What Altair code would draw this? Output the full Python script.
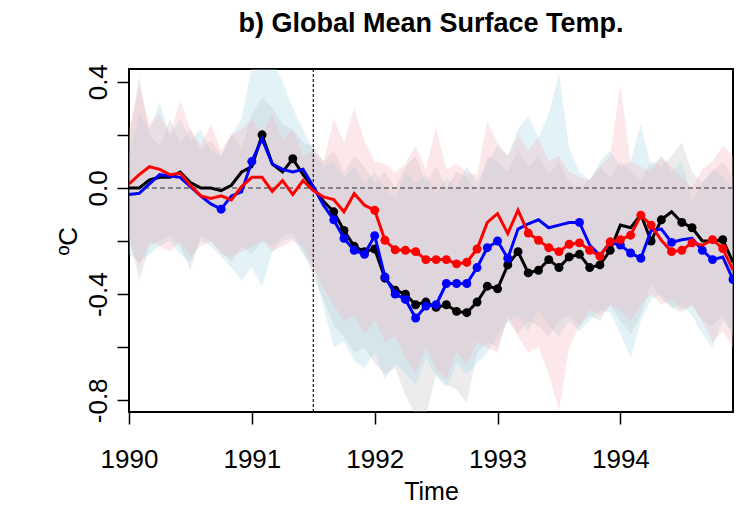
import altair as alt
import pandas as pd

# ---------------- data ----------------
months = [1990 + i / 12 for i in range(60)]

black = [0.00, 0.00, 0.03, 0.04, 0.04, 0.06, 0.02, 0.00, 0.00, -0.01,
         0.01, 0.06, 0.08, 0.20, 0.09, 0.06, 0.11, 0.05, 0.00, -0.05,
         -0.09, -0.16, -0.22, -0.24, -0.23, -0.34, -0.385, -0.40, -0.44, -0.43,
         -0.45, -0.44, -0.465, -0.47, -0.43, -0.37, -0.38, -0.29, -0.24, -0.32,
         -0.31, -0.27, -0.30, -0.26, -0.25, -0.30, -0.29, -0.235, -0.14, -0.15,
         -0.10, -0.20, -0.12, -0.09, -0.13, -0.15, -0.20, -0.20, -0.195, -0.28]

blue = [-0.025, -0.02, 0.015, 0.05, 0.045, 0.04, 0.005, -0.03, -0.06, -0.08,
        -0.03, -0.015, 0.10, 0.185, 0.09, 0.07, 0.06, 0.07, 0.005, -0.065,
        -0.12, -0.19, -0.235, -0.25, -0.18, -0.335, -0.40, -0.42, -0.49, -0.445,
        -0.44, -0.36, -0.36, -0.36, -0.30, -0.225, -0.20, -0.265, -0.155, -0.135,
        -0.12, -0.15, -0.14, -0.13, -0.13, -0.215, -0.255, -0.205, -0.215, -0.245,
        -0.265, -0.16, -0.155, -0.205, -0.195, -0.19, -0.235, -0.27, -0.26, -0.345]

red = [0.015, 0.05, 0.08, 0.07, 0.05, 0.055, 0.01, -0.03, -0.04, -0.03,
       -0.045, 0.005, 0.04, 0.04, -0.013, 0.028, -0.025, 0.028, -0.01, -0.034,
       -0.044, -0.09, -0.021, -0.065, -0.084, -0.197, -0.233, -0.235, -0.24, -0.27,
       -0.27, -0.27, -0.286, -0.28, -0.23, -0.13, -0.097, -0.172, -0.084, -0.17,
       -0.197, -0.225, -0.24, -0.212, -0.207, -0.235, -0.257, -0.203, -0.195, -0.178,
       -0.103, -0.14, -0.197, -0.24, -0.235, -0.207, -0.216, -0.195, -0.228, -0.31]

# months that carry a filled marker
black_dots = [13, 16] + list(range(20, 48)) + [51, 52, 54, 55, 58]
blue_dots = [9, 12] + list(range(20, 38)) + [44, 48, 49, 50, 53, 56, 57, 59]
red_dots = list(range(24, 35)) + list(range(39, 52)) + [53, 54, 55, 57, 58]

# ensemble spread envelopes
gray_hi = [0.18, 0.42, 0.20, 0.16, 0.26, 0.17, 0.22, 0.14, 0.18, 0.12,
           0.20, 0.15, 0.28, 0.34, 0.30, 0.24, 0.22, 0.17, 0.16, 0.10,
           0.14, 0.06, 0.12, 0.08, 0.02, 0.06, 0.00, 0.08, 0.12, 0.02,
           0.08, 0.00, 0.06, 0.04, -0.02, 0.12, 0.10, 0.06, 0.14, 0.08,
           0.12, 0.05, 0.10, 0.02, 0.00, 0.03, 0.08, 0.04, 0.10, 0.06,
           0.03, 0.10, 0.08, 0.12, 0.17, 0.06, 0.02, 0.06, 0.10, 0.04]
gray_lo = [-0.18, -0.35, -0.22, -0.20, -0.18, -0.22, -0.31, -0.18, -0.20, -0.24,
           -0.28, -0.22, -0.25, -0.20, -0.22, -0.18, -0.17, -0.24, -0.33, -0.42,
           -0.52, -0.56, -0.62, -0.60, -0.66, -0.70, -0.68, -0.78, -0.86, -0.86,
           -0.70, -0.74, -0.76, -0.81, -0.62, -0.58, -0.60, -0.50, -0.55, -0.50,
           -0.52, -0.56, -0.50, -0.48, -0.52, -0.48, -0.50, -0.44, -0.50, -0.55,
           -0.48, -0.36, -0.42, -0.45, -0.47, -0.44, -0.50, -0.52, -0.48, -0.56]
blue_hi = [0.12, 0.28, 0.22, 0.32, 0.20, 0.26, 0.18, 0.22, 0.14, 0.12,
           0.20, 0.26, 0.46, 0.50, 0.48, 0.40, 0.30, 0.22, 0.14, 0.08,
           0.10, 0.04, 0.08, 0.02, 0.06, 0.00, -0.04, 0.06, 0.02, 0.05,
           -0.02, 0.04, 0.00, 0.08, 0.02, 0.10, 0.16, 0.12, 0.22, 0.27,
           0.19, 0.28, 0.43, 0.15, 0.06, 0.03, 0.10, 0.14, 0.08, 0.10,
           0.24, 0.08, 0.12, 0.06, 0.10, -0.05, 0.02, 0.07, 0.04, 0.00]
blue_lo = [-0.25, -0.28, -0.25, -0.22, -0.20, -0.25, -0.28, -0.20, -0.22, -0.26,
           -0.30, -0.35, -0.30, -0.37, -0.24, -0.20, -0.19, -0.25, -0.30, -0.45,
           -0.60, -0.58, -0.65, -0.68, -0.62, -0.72, -0.66, -0.70, -0.74, -0.64,
           -0.71, -0.75, -0.66, -0.70, -0.66, -0.62, -0.56, -0.50, -0.48, -0.54,
           -0.46, -0.52, -0.56, -0.50, -0.54, -0.50, -0.46, -0.47, -0.55, -0.64,
           -0.50, -0.42, -0.40, -0.45, -0.44, -0.48, -0.55, -0.60, -0.50, -0.54]
pink_hi = [0.22, 0.38, 0.24, 0.28, 0.20, 0.33, 0.22, 0.16, 0.24, 0.14,
           0.20, 0.22, 0.26, 0.20, 0.28, 0.18, 0.22, 0.12, 0.14, 0.10,
           0.26, 0.17, 0.30, 0.18, 0.10, 0.09, 0.06, 0.09, 0.16, 0.07,
           0.23, 0.07, 0.09, 0.06, 0.05, 0.25, 0.17, 0.12, 0.20, 0.14,
           0.19, 0.10, 0.12, 0.06, 0.04, 0.03, 0.08, 0.12, 0.39, 0.10,
           0.08, 0.06, 0.12, 0.08, 0.04, 0.00, 0.07, 0.10, 0.16, 0.12]
pink_lo = [-0.20, -0.30, -0.20, -0.22, -0.24, -0.20, -0.26, -0.22, -0.20, -0.25,
           -0.26, -0.24, -0.22, -0.20, -0.24, -0.22, -0.20, -0.22, -0.30, -0.38,
           -0.44, -0.50, -0.48, -0.55, -0.50, -0.58, -0.56, -0.64, -0.70, -0.60,
           -0.68, -0.72, -0.62, -0.66, -0.58, -0.60, -0.62, -0.48, -0.56, -0.62,
           -0.60, -0.70, -0.84, -0.60, -0.52, -0.46, -0.48, -0.44, -0.46, -0.50,
           -0.44, -0.40, -0.44, -0.42, -0.46, -0.44, -0.50, -0.58, -0.54, -0.60]

x_ticks = [1990, 1991, 1992, 1993, 1994]
y_ticks = [-0.8, -0.6, -0.4, -0.2, 0.0, 0.2, 0.4]
eruption = 1991.5

# ---------------- chart ----------------
FONT = "Liberation Sans"
W, H = 604, 343

xscale = alt.Scale(domain=[1990, 1994 + 11 / 12], nice=False, zero=False)
yscale = alt.Scale(domain=[-0.844, 0.448], nice=False, zero=False)

xaxis = alt.Axis(values=x_ticks, format="d", tickSize=12, tickWidth=1.5,
                 tickColor="black", domain=False, grid=False,
                 labelFont=FONT, labelFontSize=26, labelColor="black",
                 labelPadding=22, labelFlush=False, labelOverlap=False,
                 titleFont=FONT, titleFontSize=25, titleFontWeight="normal",
                 titleColor="black", titleX=W / 2, titleY=79,
                 titleBaseline="middle", titleAlign="center")
ylabel_expr = ("abs(datum.value-0.4)<0.01 ? '0.4' : abs(datum.value)<0.01 ? '0.0' : "
               "abs(datum.value+0.4)<0.01 ? '-0.4' : abs(datum.value+0.8)<0.01 ? '-0.8' : ''")
yaxis = alt.Axis(values=y_ticks, labelExpr=ylabel_expr, tickSize=12, tickWidth=1.5,
                 tickColor="black", domain=False, grid=False,
                 labelFont=FONT, labelFontSize=26, labelColor="black",
                 labelAngle=270, labelAlign="center", labelBaseline="bottom",
                 labelPadding=6, labelFlush=False, labelOverlap=False,
                 titleFont=FONT, titleFontSize=26, titleFontWeight="normal",
                 titleColor="black", titleAngle=270, titleX=-61, titleY=H / 2,
                 titleBaseline="middle", titleAlign="center")


def X(f):
    return alt.X(f, type="quantitative", scale=xscale, axis=xaxis, title="Time")


def Y(f):
    return alt.Y(f, type="quantitative", scale=yscale, axis=yaxis, title="ºC")


def band(lo, hi, color, op):
    df = pd.DataFrame({"t": months, "lo": lo, "hi": hi})
    return alt.Chart(df).mark_area(color=color, opacity=op, clip=True).encode(
        x=X("t"), y=Y("lo"), y2=alt.Y2("hi"))


def series(vals, dots, color):
    df = pd.DataFrame({"t": months, "v": vals,
                       "dot": [1 if i in dots else 0 for i in range(60)]})
    base = alt.Chart(df)
    line = base.mark_line(color=color, strokeWidth=3, clip=True).encode(
        x=X("t"), y=Y("v"))
    pts = base.transform_filter("datum.dot == 1").mark_circle(
        color=color, size=80, opacity=1, clip=True).encode(x=X("t"), y=Y("v"))
    return line + pts


zero = alt.Chart(pd.DataFrame({"z": [0.0]})).mark_rule(
    color="#666666", strokeDash=[5, 3], strokeWidth=1.6).encode(y=Y("z"))
vline = alt.Chart(pd.DataFrame({"e": [eruption]})).mark_rule(
    color="black", strokeDash=[3, 2], strokeWidth=1.1).encode(x=X("e"))

chart = alt.layer(
    band(gray_lo, gray_hi, "#b4b4b4", 0.25),
    band(blue_lo, blue_hi, "#a6d8e7", 0.32),
    band(pink_lo, pink_hi, "#f7b6c0", 0.32),
    zero,
    vline,
    series(black, black_dots, "#000000"),
    series(blue, blue_dots, "#0000ff"),
    series(red, red_dots, "#ff0000"),
).properties(
    width=W, height=H,
    title=alt.TitleParams(text="b) Global Mean Surface Temp.", font=FONT,
                          fontSize=27, fontWeight="bold", color="black",
                          anchor="middle", frame="group", baseline="bottom",
                          offset=1, dy=2),
    autosize=alt.AutoSizeParams(type="none"),
    padding={"left": 121, "top": 61, "right": 1, "bottom": 92},
).configure_view(stroke="black", strokeWidth=2)

chart.save("out.html", embed_options={"renderer": "svg", "actions": False})
